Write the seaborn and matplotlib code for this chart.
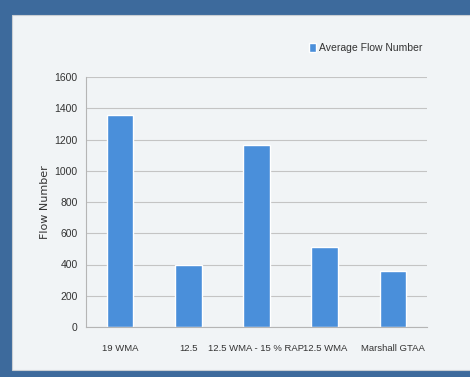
import matplotlib
matplotlib.use("Agg")
import matplotlib.pyplot as plt
from matplotlib.patches import Rectangle
import seaborn as sns
import pandas as pd
import numpy as np

categories = ["19 WMA", "12.5", "12.5 WMA - 15 % RAP", "12.5 WMA", "Marshall GTAA"]
flow_numbers = [1360, 395, 1165, 512, 358]
y_ticks = [0, 200, 400, 600, 800, 1000, 1200, 1400, 1600]

df = pd.DataFrame({"Mix": categories, "Average Flow Number": flow_numbers})

sns.set_theme(style="white")
plt.rcParams["font.family"] = ["Liberation Sans", "DejaVu Sans"]

fig = plt.figure(figsize=(4.70, 3.77), dpi=100, facecolor="#3d6a9c")
# light slide panel behind the chart
fig.patches.append(Rectangle((12 / 470, 7 / 377), 1.0, 355 / 377, transform=fig.transFigure,
                             facecolor="#f1f4f6", edgecolor="#c9ced3", linewidth=0.8, zorder=-10))

ax = fig.add_axes([86 / 470, 50 / 377, 341 / 470, 250 / 377])
ax.set_facecolor("none")
ax.set_zorder(5)

bar_color = "#4a8fda"
sns.barplot(data=df, x="Mix", y="Average Flow Number", color=bar_color, width=0.39,
            ax=ax, label="Average Flow Number", saturation=1)

ax.set_ylim(0, 1600)
ax.set_yticks(y_ticks)
ax.set_yticklabels([str(v) for v in y_ticks], fontsize=7.5, color="#333333")
ax.set_xlim(-0.5, len(categories) - 0.5)
ax.tick_params(axis="x", labelsize=6.8, colors="#333333", length=0, pad=12)
ax.tick_params(axis="y", length=0, pad=6)
ax.set_xticks(np.arange(len(categories)) + 0.5, minor=True)
ax.tick_params(axis="x", which="minor", length=3, color="#b5b5b5", width=0.8, direction="out")

ax.yaxis.grid(True, color="#c4c4c4", linewidth=0.8)
ax.set_axisbelow(True)
for side in ["top", "right"]:
    ax.spines[side].set_visible(False)
ax.spines["left"].set_color("#b5b5b5")
ax.spines["bottom"].set_color("#b5b5b5")
ax.spines["left"].set_linewidth(0.8)
ax.spines["bottom"].set_linewidth(0.8)

ax.set_xlabel("")
ax.set_ylabel("Flow Number", fontsize=8, color="#333333", family=["DejaVu Sans"], labelpad=3)

leg = ax.legend(loc="lower right", bbox_to_anchor=(1.0, 1.08), frameon=False, fontsize=7.5,
                handlelength=0.7, handleheight=0.9, handletextpad=0.3, borderaxespad=0)
for t in leg.get_texts():
    t.set_color("#333333")

fig.savefig("out.png", dpi=100, facecolor=fig.get_facecolor())
